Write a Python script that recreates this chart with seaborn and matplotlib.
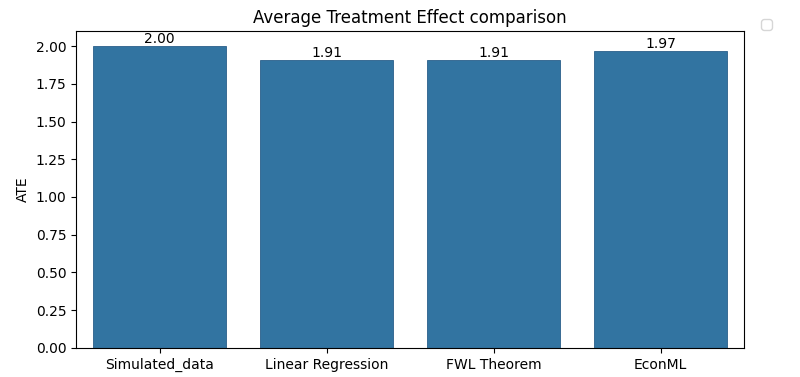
import matplotlib
matplotlib.use("Agg")
import matplotlib.pyplot as plt
import pandas as pd
import seaborn as sns

methods = ["Simulated_data", "Linear Regression", "FWL Theorem", "EconML"]
ate = [2.00, 1.91, 1.91, 1.97]

df = pd.DataFrame({"method": methods, "ATE": ate})

fig = plt.figure(figsize=(8, 3.77), dpi=100)
ax = fig.add_axes([0.095, 0.077, 0.835, 0.841])

sns.barplot(data=df, x="method", y="ATE", ax=ax, edgecolor="#2a5f8a", linewidth=0.6)
for c in ax.containers:
    ax.bar_label(c, fmt="%.2f")

ax.set_xlabel("")
ax.set_ylabel("ATE")
ax.set_title("Average Treatment Effect comparison")
# empty legend box, as in the original notebook
ax.legend(bbox_to_anchor=(1.015, 1.06), loc="upper left")

fig.savefig("out.png", dpi=100)
